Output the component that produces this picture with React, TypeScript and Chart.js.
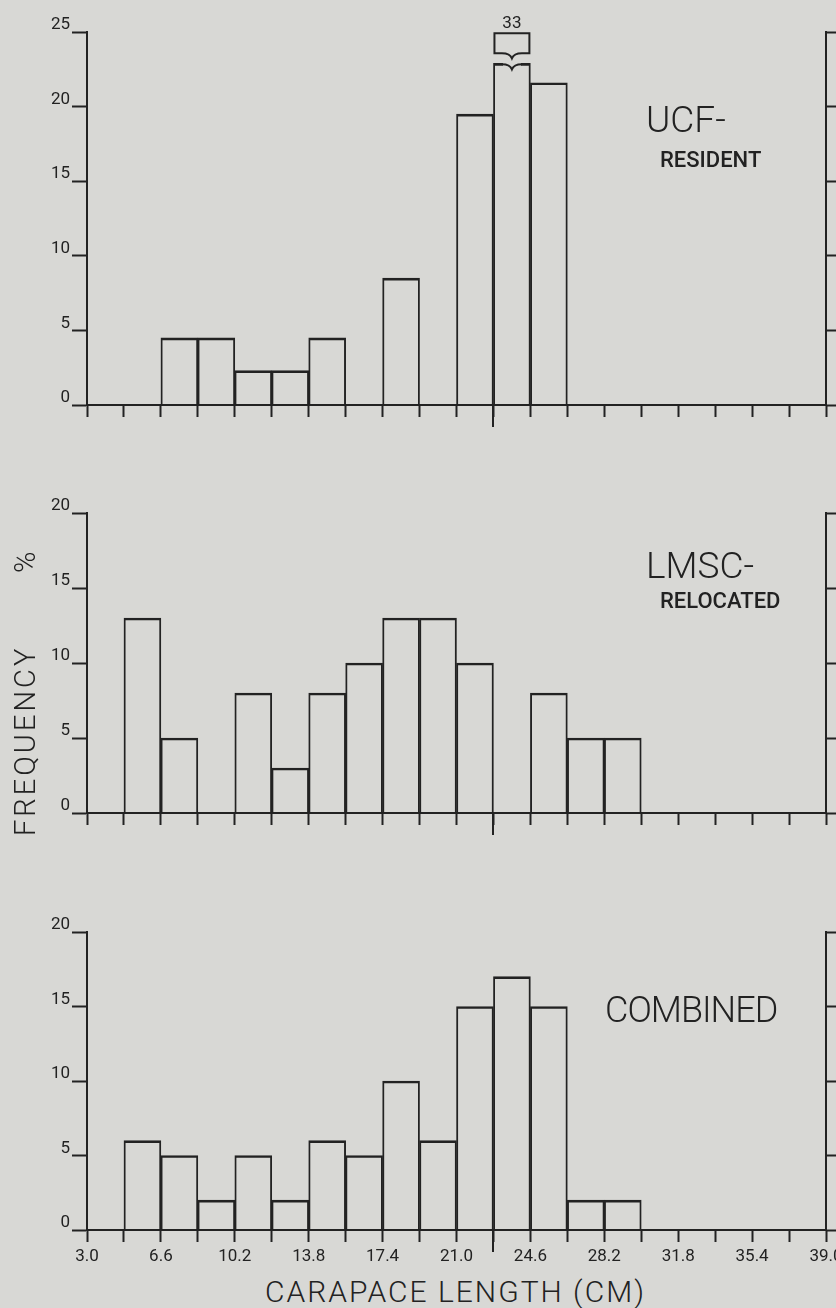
import React, { useEffect, useRef } from 'react';
import { Chart, registerables } from 'chart.js';

Chart.register(...registerables);

// ---------- data ----------
const binStarts = [3.0, 4.8, 6.6, 8.4, 10.2, 12.0, 13.8, 15.6, 17.4, 19.2, 21.0, 22.8, 24.6, 26.4, 28.2, 30.0, 31.8, 33.6, 35.4, 37.2];
const binWidth = 1.8;
const ucfResident = [0, 0, 4.5, 4.5, 2.3, 2.3, 4.5, 0, 8.5, 0, 19.5, 33, 21.6, 0, 0, 0, 0, 0, 0, 0];
const lmscRelocated = [0, 13, 5, 0, 8, 3, 8, 10, 13, 13, 10, 0, 8, 5, 5, 0, 0, 0, 0, 0];
const combinedValues = [0, 6, 5, 2, 5, 2, 6, 5, 10, 6, 15, 17, 15, 2, 2, 0, 0, 0, 0, 0];
const xTickLabels = ['3.0', '6.6', '10.2', '13.8', '17.4', '21.0', '24.6', '28.2', '31.8', '35.4', '39.0'];
const xMin = 3.0;
const xMax = 39.0;
const yStep = 5;
const longTickAt = 22.8;

// ---------- style ----------
const INK = '#222222';
const BG = '#d8d8d5';
const FONT = "Roboto, 'DejaVu Sans', sans-serif";

Chart.defaults.font.family = FONT;

type PanelProps = {
  values: number[];
  yMax: number;
  axisTop: number;
  axisBottom: number;
  showXLabels: boolean;
  breakCap?: number;
};

function Panel({ values, yMax, axisTop, axisBottom, showXLabels, breakCap }: PanelProps) {
  const ref = useRef<HTMLCanvasElement | null>(null);
  const padTop = 30;
  const xAxisH = showXLabels ? 42 : 30;
  const canvasTop = axisTop - padTop;
  const height = axisBottom - canvasTop + xAxisH;

  useEffect(() => {
    if (!ref.current) return;
    const shown = values.map((v) => (breakCap !== undefined ? Math.min(v, breakCap) : v));
    const data = binStarts.map((s, i) => ({ x: s + binWidth / 2, y: shown[i] }));

    const decor = {
      id: 'decor',
      afterDatasetsDraw(chart: any) {
        const ctx = chart.ctx;
        const xs = chart.scales.x;
        const bottom = chart.chartArea.bottom;
        ctx.save();
        // long tick
        const lx = Math.round(xs.getPixelForValue(longTickAt));
        ctx.strokeStyle = INK;
        ctx.lineWidth = 2;
        ctx.beginPath();
        ctx.moveTo(lx, bottom);
        ctx.lineTo(lx, bottom + 22);
        ctx.stroke();

        if (breakCap !== undefined) {
          const meta = chart.getDatasetMeta(0);
          values.forEach((v, i) => {
            if (v <= breakCap) return;
            const bar = meta.data[i];
            const { x, y, width } = bar.getProps(['x', 'y', 'width'], true);
            const l = x - width / 2;
            const r = x + width / 2;
            const xc = x;
            // erase middle of the flat top, draw the notch
            ctx.fillStyle = BG;
            ctx.fillRect(xc - 9, y - 1, 18, 4);
            const yy = y + 1;
            ctx.beginPath();
            ctx.moveTo(xc - 10, yy);
            ctx.quadraticCurveTo(xc - 2, yy, xc, yy + 5);
            ctx.quadraticCurveTo(xc + 2, yy, xc + 10, yy);
            ctx.stroke();
            // bracket above
            const yb = y - 10;
            const yt = y - 30;
            ctx.beginPath();
            ctx.moveTo(xc - 10, yb);
            ctx.lineTo(l + 1, yb);
            ctx.lineTo(l + 1, yt);
            ctx.lineTo(r - 1, yt);
            ctx.lineTo(r - 1, yb);
            ctx.lineTo(xc + 10, yb);
            ctx.quadraticCurveTo(xc + 2, yb, xc, yb + 5);
            ctx.quadraticCurveTo(xc - 2, yb, xc - 10, yb);
            ctx.stroke();
            ctx.fillStyle = INK;
            ctx.font = `17px ${FONT}`;
            ctx.textAlign = 'center';
            ctx.textBaseline = 'alphabetic';
            ctx.fillText(String(v), xc, yt - 5);
          });
        }
        ctx.restore();
      },
    };

    const chart = new Chart(ref.current, {
      type: 'bar',
      data: {
        datasets: [
          {
            data,
            backgroundColor: 'rgba(0,0,0,0)',
            borderColor: INK,
            borderWidth: { top: 2, left: 1.25, right: 1.25, bottom: 0 },
            borderSkipped: 'start',
            barPercentage: 1,
            categoryPercentage: 1,
          } as any,
        ],
      },
      options: {
        animation: false,
        responsive: false,
        devicePixelRatio: 1,
        layout: { padding: { top: padTop, left: 0, right: 0, bottom: 0 } },
        plugins: { legend: { display: false }, tooltip: { enabled: false } },
        scales: {
          x: {
            type: 'linear',
            min: xMin,
            max: xMax,
            offset: false,
            ticks: {
              stepSize: binWidth,
              autoSkip: false,
              maxRotation: 0,
              minRotation: 0,
              display: showXLabels,
              padding: 5,
              color: INK,
              font: { size: 17 },
              callback: (_v: any, i: number) => (i % 2 === 0 ? xTickLabels[i / 2] : ''),
            },
            grid: { display: true, offset: false, drawOnChartArea: false, drawTicks: true, tickLength: 12, tickWidth: 2, tickColor: INK },
            border: { display: true, color: INK, width: 2 },
            afterFit: (s: any) => {
              s.height = xAxisH;
              s.paddingLeft = 0;
              s.paddingRight = 0;
            },
          },
          y: {
            position: 'left',
            min: 0,
            max: yMax,
            ticks: { stepSize: yStep, padding: 2, labelOffset: -7, color: INK, font: { size: 17 } },
            grid: { display: true, drawOnChartArea: false, drawTicks: true, tickLength: 15, tickWidth: 2, tickColor: INK },
            border: { display: true, color: INK, width: 2 },
            afterFit: (s: any) => {
              s.width = 87;
              s.paddingTop = 0;
              s.paddingBottom = 0;
            },
          },
          y2: {
            position: 'right',
            min: 0,
            max: yMax,
            ticks: { stepSize: yStep, display: false },
            grid: { display: true, drawOnChartArea: false, drawTicks: true, tickLength: 10, tickWidth: 2, tickColor: INK },
            border: { display: true, color: INK, width: 2 },
            afterFit: (s: any) => {
              s.width = 10;
              s.paddingTop = 0;
              s.paddingBottom = 0;
            },
          },
        },
      } as any,
      plugins: [decor],
    });
    return () => chart.destroy();
  }, []);

  return (
    <canvas
      ref={ref}
      width={836}
      height={height}
      style={{ position: 'absolute', left: 0, top: canvasTop, width: 836, height }}
    />
  );
}

type LabelProps = { text: string; left: number; baseline: number; size: number; weight?: number; spacing?: number };
function Label({ text, left, baseline, size, weight = 300, spacing = 0 }: LabelProps) {
  return (
    <div
      style={{
        position: 'absolute',
        left,
        top: baseline - 0.84 * size,
        fontFamily: FONT,
        fontSize: size,
        fontWeight: weight,
        lineHeight: 1,
        letterSpacing: spacing,
        color: INK,
        whiteSpace: 'nowrap',
      }}
    >
      {text}
    </div>
  );
}

function VLabel({ text, baselineX, startY, size, spacing = 0 }: { text: string; baselineX: number; startY: number; size: number; spacing?: number }) {
  return (
    <div
      style={{
        position: 'absolute',
        left: baselineX - 0.84 * size,
        top: startY,
        transformOrigin: '0 0',
        transform: 'rotate(-90deg)',
        fontFamily: FONT,
        fontSize: size,
        fontWeight: 300,
        lineHeight: 1,
        letterSpacing: spacing,
        color: INK,
        whiteSpace: 'nowrap',
      }}
    >
      {text}
    </div>
  );
}

export default function App() {
  return (
    <div
      style={{
        position: 'absolute',
        left: 0,
        top: 0,
        width: 836,
        height: 1308,
        background: BG,
        overflow: 'hidden',
      }}
    >
      <Panel values={ucfResident} yMax={25} axisTop={32} axisBottom={405} showXLabels={false} breakCap={22.9} />
      <Panel values={lmscRelocated} yMax={20} axisTop={513} axisBottom={813} showXLabels={false} />
      <Panel values={combinedValues} yMax={20} axisTop={932} axisBottom={1230} showXLabels={true} />

      <Label text="UCF-" left={646} baseline={132} size={37} />
      <Label text="RESIDENT" left={660} baseline={167} size={22} weight={500} />
      <Label text="LMSC-" left={646} baseline={578} size={37} />
      <Label text="RELOCATED" left={660} baseline={608} size={22} weight={500} />
      <Label text="COMBINED" left={605} baseline={1022} size={36} spacing={-1} />
      <Label text="CARAPACE LENGTH (CM)" left={265} baseline={1302} size={30} spacing={2} />

      <VLabel text="FREQUENCY" baselineX={35} startY={836} size={29} spacing={3} />
      <VLabel text="%" baselineX={35} startY={573} size={29} />
    </div>
  );
}
